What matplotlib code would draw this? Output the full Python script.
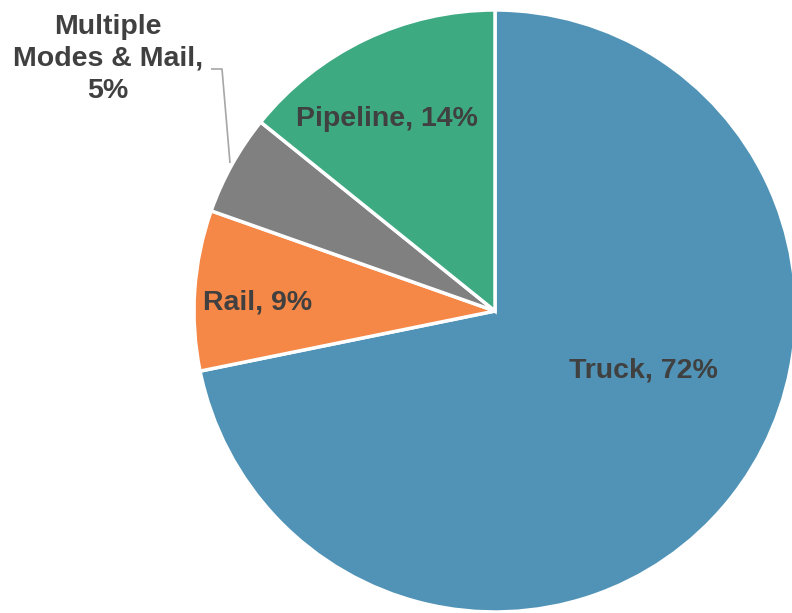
import matplotlib
matplotlib.use("Agg")
import matplotlib.pyplot as plt

categories = ["Truck", "Rail", "Multiple\nModes & Mail", "Pipeline"]
shares = [71.8, 8.6, 5.4, 14.2]
colors = ["#5093B6", "#F58747", "#808080", "#3DAA82"]

W, H = 792, 613
fig = plt.figure(figsize=(W / 100, H / 100), dpi=100)
ax = fig.add_axes([0, 0, 1, 1])

cx, cy, R = 495, H - 311, 301
ax.pie(shares, colors=colors, startangle=90, counterclock=False,
       center=(cx, cy), radius=R, frame=True,
       wedgeprops=dict(edgecolor="white", linewidth=2.5))
ax.set_xlim(0, W)
ax.set_ylim(0, H)
ax.set_aspect("equal")
ax.axis("off")

labels = [f"{c}, {round(s)}%" for c, s in zip(categories, shares)]
labels[2] = "Multiple\nModes & Mail,\n5%"
pos = [(643, 371), (258, 302), (108, 59), (387, 119)]
tc = "#404040"
for i, (lab, (x, y)) in enumerate(zip(labels, pos)):
    ax.text(x, H - y, lab, ha="center", va="center", fontsize=20.5,
            fontweight="bold", color=tc, family="Liberation Sans",
            linespacing=1.3 if i == 2 else 1.0)

# leader line for small slice
ax.plot([211, 222, 230], [H - 69, H - 69, H - 163], color="#A6A6A6", lw=1.2,
        solid_capstyle="butt")

fig.savefig("out.png", dpi=100)
